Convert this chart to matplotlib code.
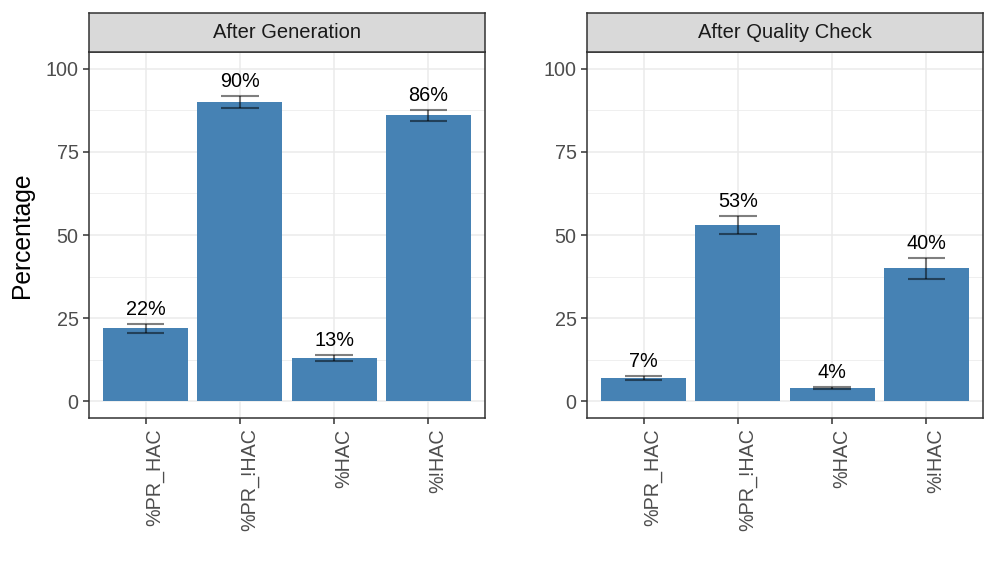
import numpy as np
import matplotlib
matplotlib.use("Agg")
import matplotlib.pyplot as plt
import matplotlib.transforms as mtransforms

plt.rcParams['font.family'] = ['Liberation Sans', 'DejaVu Sans']

categories = ["%PR_HAC", "%PR_!HAC", "%HAC", "%!HAC"]
panels = ["After Generation", "After Quality Check"]
values_gen = [22, 90, 13, 86]
err_gen = [1.4, 1.8, 1.0, 1.7]
values_qc = [7, 53, 4, 40]
err_qc = [0.6, 2.8, 0.3, 3.1]
yticks = [0, 25, 50, 75, 100]

bar_color = "#4682B4"
grid_color = "#EBEBEB"
frame_color = "#333333"
tick_text = "#4D4D4D"

fig = plt.figure(figsize=(9.96, 5.81), dpi=100)
W, H = 996, 581


def add_panel(x0, x1, title, vals, errs, ylabel=None):
    top, bottom = 52, 418
    ax = fig.add_axes([x0 / W, 1 - bottom / H, (x1 - x0) / W, (bottom - top) / H])
    xs = np.arange(1, len(categories) + 1)
    ax.set_xlim(0.4, 4.6)
    ax.set_ylim(-5, 105)
    # grid
    for y in yticks:
        ax.axhline(y, color=grid_color, lw=1.1, zorder=0)
    for y in [12.5, 37.5, 62.5, 87.5]:
        ax.axhline(y, color=grid_color, lw=0.55, zorder=0)
    for x in xs:
        ax.axvline(x, color=grid_color, lw=1.1, zorder=0)
    ax.bar(xs, vals, width=0.9, color=bar_color, zorder=2)
    vals = np.array(vals)
    errs = np.array(errs)
    ax.vlines(xs, vals - errs, vals + errs, color="black", alpha=0.5, lw=1.5, zorder=3)
    ax.hlines(vals - errs, xs - 0.2, xs + 0.2, color="black", alpha=0.5, lw=1.5, zorder=3)
    ax.hlines(vals + errs, xs - 0.2, xs + 0.2, color="black", alpha=0.5, lw=1.5, zorder=3)
    for x, v, e in zip(xs, vals, errs):
        ax.annotate(f"{v}%", (x, v + e), xytext=(0, 3.5), textcoords="offset points",
                    ha="center", va="bottom", fontsize=14.3, color="black")
    ax.set_xticks(xs)
    ax.set_xticklabels(categories, rotation=90, fontsize=14.2, color=tick_text, ha="left")
    shift = mtransforms.ScaledTranslation(-3.5 / 100, 0, fig.dpi_scale_trans)
    for lab in ax.get_xticklabels():
        lab.set_transform(lab.get_transform() + shift)
    ax.set_yticks(yticks)
    ax.set_yticklabels([str(t) for t in yticks], fontsize=14.2, color=tick_text)
    ax.tick_params(length=4.5, width=1.1, color=frame_color, pad=3)
    for s in ax.spines.values():
        s.set_color(frame_color)
        s.set_linewidth(1.1)
    if ylabel:
        ax.set_ylabel(ylabel, fontsize=17.7, labelpad=8)
    # strip
    sx = fig.add_axes([x0 / W, 1 - top / H, (x1 - x0) / W, (top - 13) / H])
    sx.set_facecolor("#D9D9D9")
    sx.set_xticks([])
    sx.set_yticks([])
    for s in sx.spines.values():
        s.set_color(frame_color)
        s.set_linewidth(1.1)
    sx.text(0.5, 0.5, title, ha="center", va="center", fontsize=14.5,
            color="#1A1A1A", transform=sx.transAxes)
    return ax


add_panel(89, 485, panels[0], values_gen, err_gen, ylabel="Percentage")
add_panel(587, 983, panels[1], values_qc, err_qc)

fig.savefig("out.png", dpi=100)
